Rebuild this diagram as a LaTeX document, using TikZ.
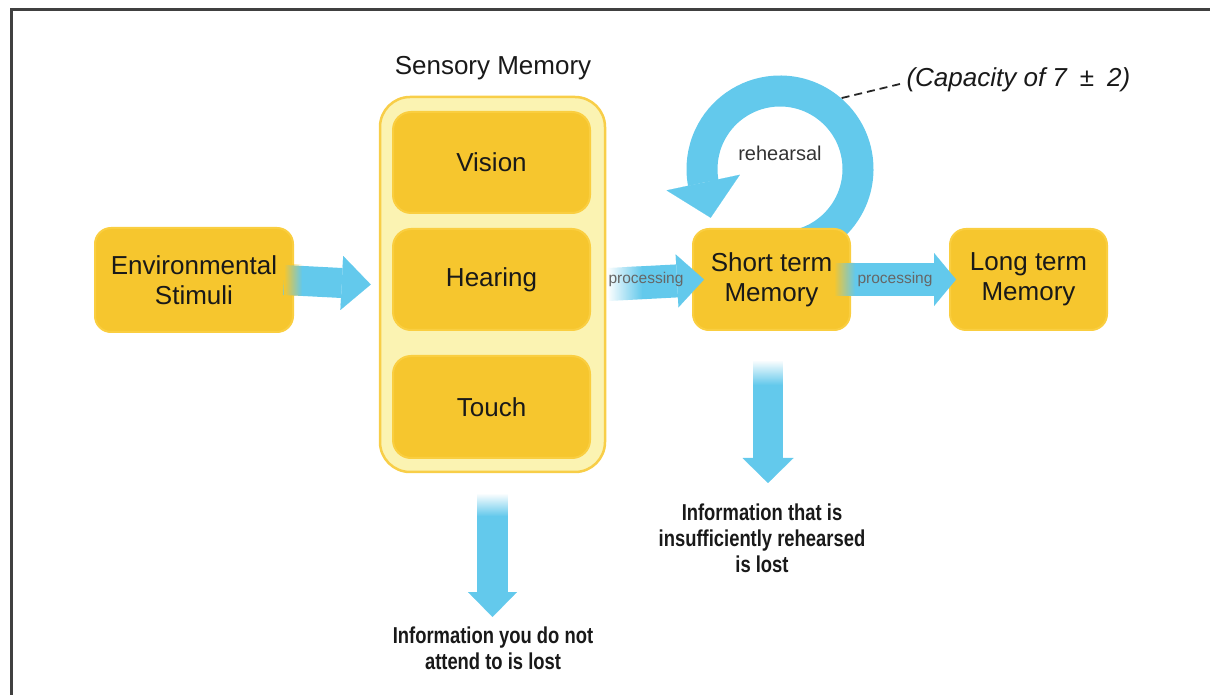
\documentclass[tikz,border=0pt]{standalone}
\usepackage{fontspec}
\setmainfont{Liberation Sans}
\newfontfamily\fuentecond[FakeStretch=0.8]{Liberation Sans}
\usetikzlibrary{arrows.meta,fadings}

\definecolor{amarillo}{RGB}{246,198,46}
\definecolor{bordeamarillo}{RGB}{250,206,64}
\definecolor{crema}{RGB}{251,243,178}
\definecolor{bordecrema}{RGB}{248,206,72}
\definecolor{azul}{RGB}{99,201,236}

\tikzfading[name=desvanecer, left color=transparent!0, right color=transparent!100]
\tikzfading[name=desvanecerv, top color=transparent!0, bottom color=transparent!100]

\begin{document}
\begin{tikzpicture}[x=1pt,y=1pt]
  % Definir estilos
  \tikzset{
    caja/.style={draw=bordeamarillo, fill=amarillo, line width=2pt, rounded corners=16pt,
      minimum width=157pt, minimum height=101pt, inner sep=0pt, align=center,
      font=\fontsize{26}{30}\selectfont, text=black!90},
    contenedor/.style={draw=bordecrema, fill=crema, line width=2.5pt, rounded corners=30pt,
      minimum width=225pt, minimum height=375pt},
    flecha_gruesa/.style={draw=azul, line width=#1},
    etiqueta_proc/.style={font=\fontsize{15.5}{18}\selectfont, text=black!60},
    texto_perdida/.style={align=center, text=black!90,
      font=\fuentecond\bfseries\fontsize{23}{26}\selectfont},
    linea_guion/.style={black!85, line width=1.8pt, dash pattern=on 8pt off 5pt},
    marco/.style={black!75, line width=3pt}
  }

  \useasboundingbox (0,0) rectangle (1210,694);
  \clip (0,0) rectangle (1210,694);

  % Marco exterior
  \draw[marco] (11,-10) -- (11,684.5) -- (1230,684.5);

  % Bucle de repaso (detras de la memoria a corto plazo)
  \coordinate (centro_bucle) at (780,525);
  \draw[flecha_gruesa=31pt, -{Triangle[length=36pt,width=75pt,line width=0.1pt]}]
    ([shift={(-85:78)}]centro_bucle) arc[start angle=-85, end angle=190, radius=78]
    -- ++(282:36);
  \node[font=\fontsize{20}{24}\selectfont, text=black!80] (repaso) at (780,541) {rehearsal};

  % Capacidad
  \node[anchor=west, font=\itshape\fontsize{26}{30}\selectfont, text=black!90] (capacidad)
    at (903,614) {(Capacity of 7\enspace±\enspace2)};
  \coordinate (borde_bucle) at ([shift={(49:94)}]centro_bucle);
  \draw[linea_guion] (borde_bucle) -- ([shift={(-3,-4)}]capacidad.west);

  % Cajas
  \node[caja, minimum width=198pt, minimum height=104pt] (estimulos) at (194,414) {Environmental\\Stimuli};
  \node[contenedor] (sensorial) at (492.5,409.5) {};
  \node[font=\fontsize{26}{30}\selectfont, text=black!90] (titulo_sens) at (493,626) {Sensory Memory};
  \node[caja, minimum width=197pt, rounded corners=18pt] (vision) at (491.5,531.5) {Vision};
  \node[caja, minimum width=197pt, rounded corners=18pt] (oido) at (491.5,414.5) {Hearing};
  \node[caja, minimum width=197pt, minimum height=102pt, rounded corners=18pt] (tacto) at (491.5,287) {Touch};
  \node[caja] (corto) at (771.5,414.5) {Short term\\Memory};
  \node[caja] (largo) at (1028.5,414.5) {Long term\\Memory};

  % Flechas horizontales
  \draw[flecha_gruesa=30pt, -{Triangle[length=29pt,width=54pt,line width=0.1pt]}]
    ([xshift=-10pt]estimulos.east) -- ([xshift=-8pt]sensorial.west);
  \fill[amarillo, path fading=desvanecer] ([shift={(-10pt,-16pt)}]estimulos.east) rectangle ([shift={(8pt,16pt)}]estimulos.east);

  \draw[flecha_gruesa=33pt, -{Triangle[length=27pt,width=53pt,line width=0.1pt]}]
    ([xshift=2pt]sensorial.east) -- ([xshift=12pt]corto.west);
  \fill[white, path fading=desvanecer] ([shift={(1pt,-17pt)}]sensorial.east) rectangle ([shift={(36pt,17pt)}]sensorial.east);
  \node[etiqueta_proc] (proc1) at (646,415) {processing};

  \draw[flecha_gruesa=33pt, -{Triangle[length=22pt,width=53pt,line width=0.1pt]}]
    ([xshift=-17pt]corto.east) -- ([xshift=7pt]largo.west);
  \fill[amarillo, path fading=desvanecer] ([shift={(-17pt,-17pt)}]corto.east) rectangle ([shift={(4pt,17pt)}]corto.east);
  \node[etiqueta_proc] (proc2) at (895,415) {processing};

  % Textos de perdida
  \node[texto_perdida] (perdida_sens) at (493,46) {Information you do not\\attend to is lost};
  \node[texto_perdida] (perdida_corto) at (762,156) {Information that is\\insufficiently rehearsed\\is lost};

  % Flechas verticales
  \coordinate (ini_sens) at ([yshift=-21pt]sensorial.south);
  \coordinate (punta_sens) at ([yshift=31pt]perdida_sens.center);
  \draw[flecha_gruesa=31pt, -{Triangle[length=25pt,width=49pt,line width=0.1pt]}]
    (ini_sens) -- (ini_sens |- punta_sens);
  \fill[white, path fading=desvanecerv] ([shift={(-17pt,1pt)}]ini_sens) rectangle ([shift={(17pt,-22pt)}]ini_sens);

  \coordinate (ini_corto) at ([xshift=-3.5pt,yshift=-30pt]corto.south);
  \coordinate (punta_corto) at ([yshift=55pt]perdida_corto.center);
  \draw[flecha_gruesa=30pt, -{Triangle[length=25pt,width=51pt,line width=0.1pt]}]
    (ini_corto) -- (ini_corto |- punta_corto);
  \fill[white, path fading=desvanecerv] ([shift={(-17pt,1pt)}]ini_corto) rectangle ([shift={(17pt,-24pt)}]ini_corto);
\end{tikzpicture}
\end{document}
